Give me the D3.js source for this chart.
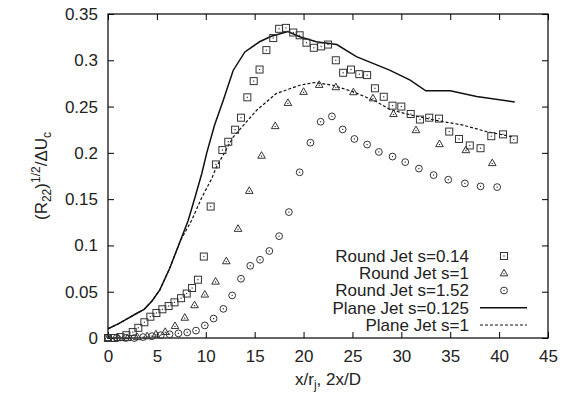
<!DOCTYPE html>
<html>
<head>
<meta charset="utf-8">
<script src="https://cdn.jsdelivr.net/npm/d3@7"></script>
<style>
  body { margin: 0; background: #fff; }
  text { font-family: "Liberation Sans", Arial, sans-serif; fill: #222; }
</style>
</head>
<body>
<div id="chart"></div>
<script>
// data
const sqX = [0, 0.63, 1.27, 1.88, 2.53, 3.1, 3.72, 4.33, 4.95, 5.56, 6.2, 6.8, 7.47, 8.05, 8.6, 9.2, 9.8, 10.5, 11.04, 11.7, 12.3, 13.0, 13.6, 14.25, 14.9, 15.5, 16.2, 16.9, 17.5, 18.2, 18.95, 19.6, 20.3, 21.05, 21.8, 22.5, 23.3, 24.05, 24.85, 25.7, 26.5, 27.3, 28.2, 29.1, 30.0, 30.96, 31.9, 32.85, 33.85, 34.9, 35.9, 37.0, 38.1, 39.2, 40.4, 41.5];
const sqY = [0, 0, 0.001, 0.003, 0.0064, 0.011, 0.017, 0.023, 0.027, 0.031, 0.0345, 0.0385, 0.043, 0.048, 0.054, 0.063, 0.088, 0.142, 0.1875, 0.203, 0.212, 0.225, 0.238, 0.26, 0.2775, 0.29, 0.311, 0.324, 0.334, 0.335, 0.33, 0.327, 0.319, 0.3135, 0.315, 0.317, 0.3, 0.2865, 0.29, 0.285, 0.284, 0.2697, 0.2606, 0.251, 0.25, 0.242, 0.236, 0.238, 0.237, 0.223, 0.215, 0.208, 0.205, 0.218, 0.22, 0.2145];

const triX = [0, 1, 2, 3, 4, 4.9, 5.85, 6.85, 7.85, 8.85, 9.9, 11.0, 12.1, 13.3, 14.45, 15.7, 17.1, 18.4, 20.0, 21.6, 23.3, 25.1, 27.1, 29.2, 31.5, 33.9, 36.6, 39.3];
const triY = [0, 0, 0, 0.001, 0.002, 0.004, 0.0067, 0.013, 0.022, 0.0355, 0.047, 0.061, 0.083, 0.118, 0.159, 0.197, 0.229, 0.254, 0.266, 0.2735, 0.271, 0.2656, 0.259, 0.242, 0.2246, 0.2095, 0.203, 0.189];

const cirX = [0, 0.9, 1.8, 2.7, 3.6, 4.5, 5.4, 6.3, 7.2, 8.1, 9.0, 9.9, 10.8, 11.8, 12.7, 13.6, 14.55, 15.55, 16.5, 17.5, 18.5, 19.6, 20.7, 21.75, 22.9, 24.0, 25.2, 26.5, 27.7, 29.1, 30.4, 31.8, 33.3, 34.8, 36.5, 38.1, 39.8];
const cirY = [0, 0, 0, 0, 0.001, 0.002, 0.003, 0.004, 0.005, 0.006, 0.008, 0.0136, 0.021, 0.0315, 0.046, 0.064, 0.078, 0.0845, 0.094, 0.11, 0.136, 0.179, 0.211, 0.2336, 0.2394, 0.2253, 0.215, 0.209, 0.201, 0.196, 0.19, 0.183, 0.176, 0.171, 0.167, 0.1638, 0.163];

const solidX = [0, 1, 2, 3, 3.7, 4.5, 5.3, 6.3, 7.4, 8.2, 8.9, 9.6, 10.1, 10.9, 11.8, 12.8, 14.0, 15.5, 16.7, 18.4, 19.6, 21.3, 23.4, 25.4, 28.8, 30.9, 32.5, 35.0, 37.7, 41.6];
const solidY = [0.010, 0.015, 0.021, 0.027, 0.031, 0.040, 0.052, 0.075, 0.105, 0.127, 0.152, 0.178, 0.2, 0.23, 0.257, 0.289, 0.309, 0.320, 0.326, 0.331, 0.3254, 0.32, 0.317, 0.304, 0.2894, 0.2786, 0.267, 0.267, 0.261, 0.255];

const dashX = [0, 1, 2, 3, 3.7, 4.5, 5.3, 6.3, 7.4, 8.55, 9.6, 10.6, 11.1, 12.8, 15.2, 17.2, 19.6, 21.1, 23.0, 25.1, 27.5, 28.8, 30.9, 33.6, 36.3, 38.7, 41.5];
const dashY = [0.010, 0.015, 0.021, 0.027, 0.031, 0.040, 0.052, 0.075, 0.105, 0.127, 0.152, 0.172, 0.185, 0.217, 0.246, 0.264, 0.273, 0.276, 0.273, 0.266, 0.255, 0.247, 0.241, 0.235, 0.230, 0.223, 0.217];

const xTicks = [0, 5, 10, 15, 20, 25, 30, 35, 40, 45];
const yTicks = [0, 0.05, 0.1, 0.15, 0.2, 0.25, 0.3, 0.35];
const yTickLabels = ["0", "0.05", "0.1", "0.15", "0.2", "0.25", "0.3", "0.35"];
const legendLabels = ["Round Jet s=0.14", "Round Jet s=1", "Round Jet s=1.52", "Plane Jet s=0.125", "Plane Jet s=1"];

const svgWidth = 567;
const svgHeight = 394;
const margin = {top: 14, right: 19, bottom: 56, left: 108};
const graphWidth = svgWidth - margin.left - margin.right;
const graphHeight = svgHeight - margin.top - margin.bottom;

const svg = d3.select("#chart")
  .append("svg")
  .attr("width", svgWidth)
  .attr("height", svgHeight);

const graph = svg.append("g")
  .attr("transform", `translate(${margin.left}, ${margin.top})`);

const x = d3.scaleLinear().domain([0, 45]).range([0, graphWidth]);
const y = d3.scaleLinear().domain([0, 0.35]).range([graphHeight, 0]);

const ink = "#333";

// axes, ticks pointing inward on all four sides
const styleAxis = g => {
  g.select(".domain").remove();
  g.selectAll("line").attr("stroke", "#000");
  g.selectAll("text").attr("font-size", 17).attr("fill", "#222")
    .attr("font-family", '"Liberation Sans", Arial, sans-serif');
};

graph.append("g")
  .attr("transform", `translate(0, ${graphHeight})`)
  .call(d3.axisBottom(x).tickValues(xTicks).tickSize(-6).tickPadding(12).tickFormat(d3.format("d")))
  .call(styleAxis);

graph.append("g")
  .call(d3.axisLeft(y).tickValues(yTicks).tickSize(-6).tickPadding(10).tickFormat((d, i) => yTickLabels[i]))
  .call(styleAxis);

graph.append("g")
  .call(d3.axisTop(x).tickValues(xTicks).tickSize(-6).tickFormat(""))
  .call(styleAxis);

graph.append("g")
  .attr("transform", `translate(${graphWidth}, 0)`)
  .call(d3.axisRight(y).tickValues(yTicks).tickSize(-6).tickFormat(""))
  .call(styleAxis);

graph.append("rect")
  .attr("width", graphWidth)
  .attr("height", graphHeight)
  .attr("fill", "none")
  .attr("stroke", "#000")
  .attr("stroke-width", 1.2);

// lines
const line = d3.line().x(d => x(d[0])).y(d => y(d[1]));

graph.append("path")
  .datum(solidX.map((v, i) => [v, solidY[i]]))
  .attr("d", line)
  .attr("fill", "none")
  .attr("stroke", "#111")
  .attr("stroke-width", 1.5);

graph.append("path")
  .datum(dashX.map((v, i) => [v, dashY[i]]))
  .attr("d", line)
  .attr("fill", "none")
  .attr("stroke", "#111")
  .attr("stroke-width", 1.2)
  .attr("stroke-dasharray", "3,2");

// marker shapes
function drawSquare(g, cx, cy) {
  g.append("rect").attr("x", cx - 3.5).attr("y", cy - 3.5).attr("width", 7).attr("height", 7)
    .attr("fill", "none").attr("stroke", ink).attr("stroke-width", 1);
  g.append("rect").attr("x", cx - 0.6).attr("y", cy - 0.6).attr("width", 1.2).attr("height", 1.2).attr("fill", ink);
}
function drawTriangle(g, cx, cy) {
  g.append("path")
    .attr("d", `M${cx},${cy - 4} L${cx + 3.8},${cy + 2.6} L${cx - 3.8},${cy + 2.6} Z`)
    .attr("fill", "none").attr("stroke", ink).attr("stroke-width", 1);
  g.append("rect").attr("x", cx - 0.6).attr("y", cy - 0.1).attr("width", 1.2).attr("height", 1.2).attr("fill", ink);
}
function drawCircle(g, cx, cy) {
  g.append("circle").attr("cx", cx).attr("cy", cy).attr("r", 3.4)
    .attr("fill", "none").attr("stroke", ink).attr("stroke-width", 1);
  g.append("rect").attr("x", cx - 0.6).attr("y", cy - 0.6).attr("width", 1.2).attr("height", 1.2).attr("fill", ink);
}

const marks = graph.append("g");
sqX.forEach((v, i) => drawSquare(marks, x(v), y(sqY[i])));
triX.forEach((v, i) => drawTriangle(marks, x(v), y(triY[i])));
cirX.forEach((v, i) => drawCircle(marks, x(v), y(cirY[i])));

// legend
const legend = svg.append("g");
const legY = d3.scalePoint().domain(legendLabels).range([256, 325]);
legend.selectAll("text")
  .data(legendLabels)
  .enter()
  .append("text")
  .attr("x", 469)
  .attr("y", d => legY(d))
  .attr("dy", "0.35em")
  .attr("text-anchor", "end")
  .attr("font-size", 17)
  .text(d => d);

drawSquare(legend, 504, legY(legendLabels[0]));
drawTriangle(legend, 504, legY(legendLabels[1]));
drawCircle(legend, 504, legY(legendLabels[2]));
legend.append("line").attr("x1", 480).attr("x2", 527)
  .attr("y1", legY(legendLabels[3])).attr("y2", legY(legendLabels[3]))
  .attr("stroke", "#111").attr("stroke-width", 1.5);
legend.append("line").attr("x1", 480).attr("x2", 527)
  .attr("y1", legY(legendLabels[4])).attr("y2", legY(legendLabels[4]))
  .attr("stroke", "#111").attr("stroke-width", 1.2).attr("stroke-dasharray", "3,2");

// axis titles
const xTitle = svg.append("text")
  .attr("x", margin.left + graphWidth / 2)
  .attr("y", 385)
  .attr("text-anchor", "middle")
  .attr("font-size", 17);
xTitle.append("tspan").text("x/r");
xTitle.append("tspan").attr("font-size", 12).attr("baseline-shift", "-4").text("j");
xTitle.append("tspan").text(", 2x/D");

const yTitle = svg.append("text")
  .attr("transform", `translate(47, ${margin.top + graphHeight / 2}) rotate(-90)`)
  .attr("text-anchor", "middle")
  .attr("font-size", 17);
yTitle.append("tspan").text("(R");
yTitle.append("tspan").attr("font-size", 12).attr("baseline-shift", "-4").text("22");
yTitle.append("tspan").text(")");
yTitle.append("tspan").attr("font-size", 12).attr("baseline-shift", "7").text("1/2");
yTitle.append("tspan").text("/ΔU");
yTitle.append("tspan").attr("font-size", 12).attr("baseline-shift", "-4").text("c");
</script>
</body>
</html>
